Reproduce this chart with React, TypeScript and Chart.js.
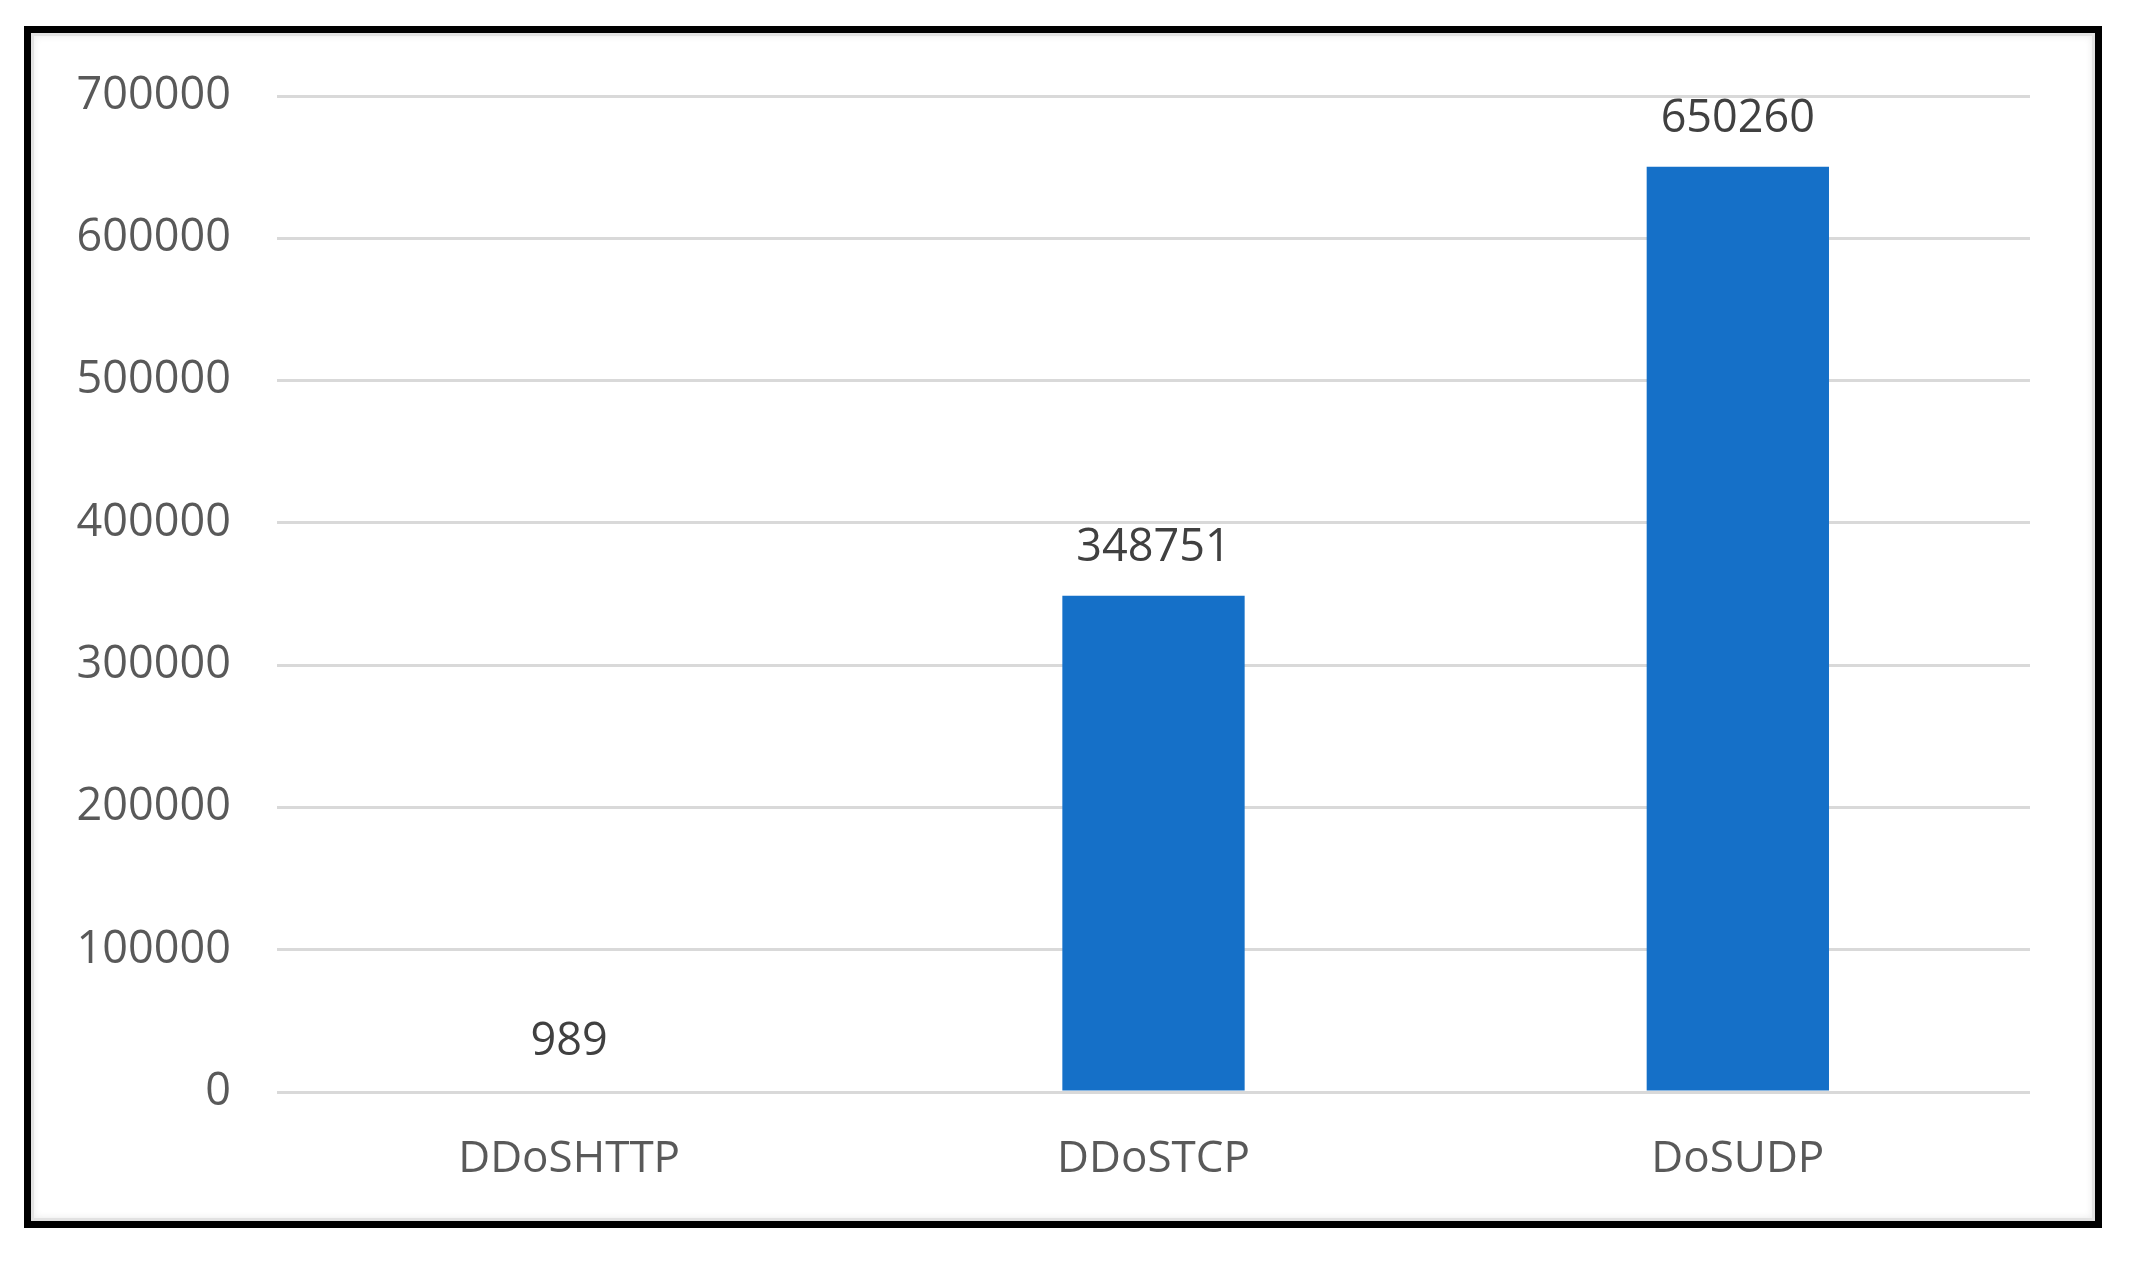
import React, { useEffect, useRef } from "react";
import { Chart, registerables } from "chart.js";

Chart.register(...registerables);

const categories = ["DDoSHTTP", "DDoSTCP", "DoSUDP"];
const counts = [989, 348751, 650260];
const yTicks = [0, 100000, 200000, 300000, 400000, 500000, 600000, 700000];

const FONT = "'Open Sans', 'DejaVu Sans', sans-serif";

const valueLabels = {
  id: "valueLabels",
  afterDatasetsDraw(chart: any) {
    const ctx = chart.ctx;
    const meta = chart.getDatasetMeta(0);
    ctx.save();
    ctx.font = `45px ${FONT}`;
    ctx.fillStyle = "#404040";
    ctx.textAlign = "center";
    ctx.textBaseline = "middle";
    meta.data.forEach((el: any, i: number) => {
      ctx.fillText(String(counts[i]), el.x, el.y - 48);
    });
    ctx.restore();
  },
};

export default function App() {
  const ref = useRef<HTMLCanvasElement | null>(null);
  useEffect(() => {
    if (!ref.current) return;
    const chart = new Chart(ref.current, {
      type: "bar",
      data: {
        labels: categories,
        datasets: [
          {
            data: counts,
            backgroundColor: "#1570C8",
            borderWidth: 0,
            categoryPercentage: 1,
            barPercentage: 0.312,
          },
        ],
      },
      options: {
        responsive: false,
        animation: false,
        maintainAspectRatio: false,
        layout: { padding: { left: 0, right: 109, top: 96, bottom: 0 } },
        plugins: { legend: { display: false }, tooltip: { enabled: false } },
        scales: {
          x: {
            grid: { display: false },
            border: { display: false },
            ticks: {
              color: "#595959",
              font: { family: FONT, size: 44 },
              padding: 33,
            },
            afterFit: (s: any) => {
              s.height = 171;
            },
          },
          y: {
            min: 0,
            max: 700000,
            afterBuildTicks: (s: any) => {
              s.ticks = yTicks.map((v) => ({ value: v }));
            },
            grid: { color: "#d9d9d9", lineWidth: 3, drawTicks: false },
            border: { display: false },
            ticks: {
              color: "#595959",
              font: { family: FONT, size: 45 },
              padding: 46,
              callback: (v: any) => String(v),
            },
            afterFit: (s: any) => {
              s.width = 277;
            },
          },
        },
      },
      plugins: [valueLabels],
    });
    return () => chart.destroy();
  }, []);
  return (
    <div style={{ position: "absolute", left: 0, top: 0, width: 2139, height: 1263, background: "#fff" }}>
      <canvas ref={ref} width={2139} height={1263} style={{ position: "absolute", left: 0, top: 0 }} />
      <div
        style={{
          position: "absolute",
          left: 24,
          top: 26,
          width: 2078,
          height: 1202,
          boxSizing: "border-box",
          border: "7px solid #000",
          boxShadow: "inset 0 0 0 3px #e2e2e2, inset 0 0 6px 4px #eeeeee",
          pointerEvents: "none",
        }}
      />
    </div>
  );
}
